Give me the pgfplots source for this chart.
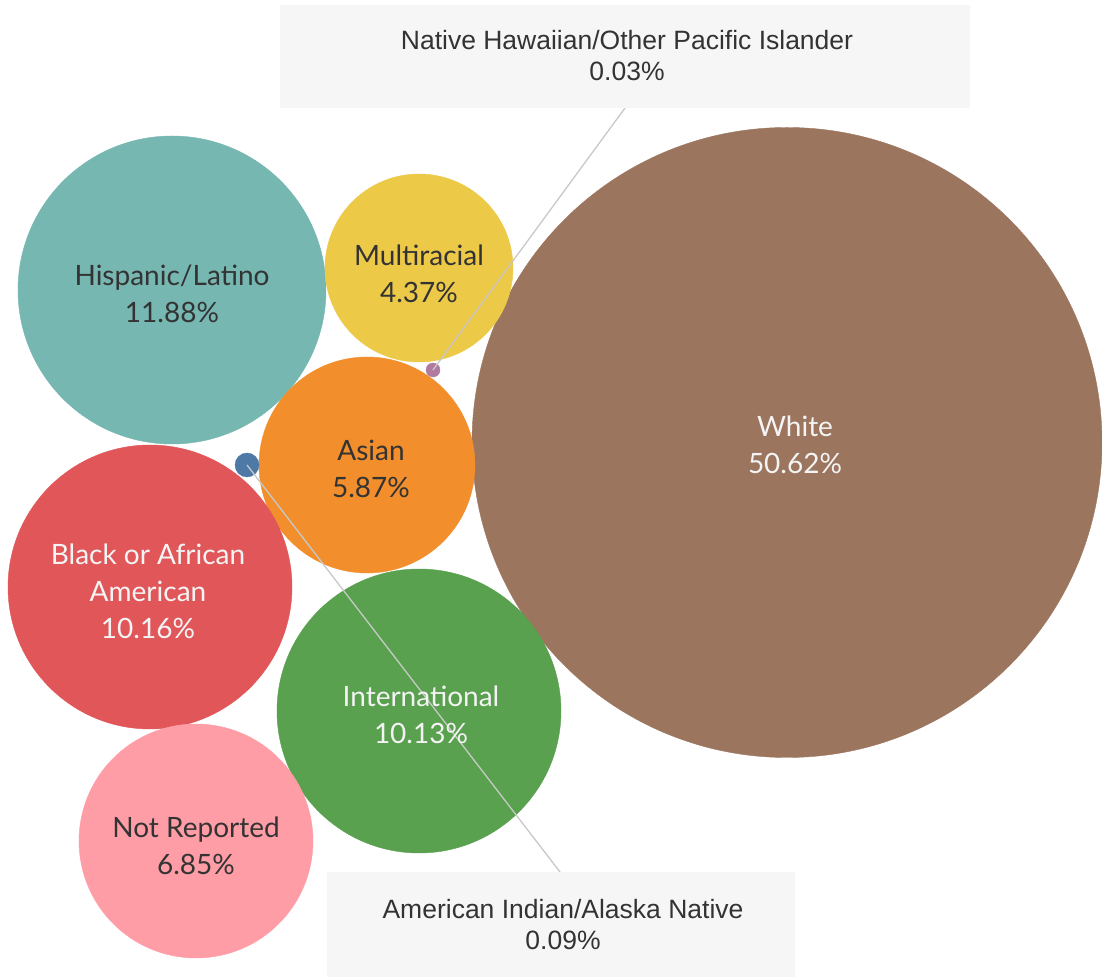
\documentclass[border=0pt]{standalone}
\usepackage{pgfplots}
\pgfplotsset{compat=1.18}
\usepackage{fontspec}
\setmainfont{Lato}
\newfontfamily\boxfont{Liberation Sans}
\definecolor{cWhite}{HTML}{9C755F}
\definecolor{cHisp}{HTML}{76B7B2}
\definecolor{cMulti}{HTML}{EDC948}
\definecolor{cAsian}{HTML}{F28E2B}
\definecolor{cBlack}{HTML}{E15759}
\definecolor{cIntl}{HTML}{59A14F}
\definecolor{cNR}{HTML}{FF9DA7}
\definecolor{cNH}{HTML}{B07AA1}
\definecolor{cAI}{HTML}{4E79A7}
\definecolor{dark}{HTML}{333333}
\definecolor{light}{HTML}{F4F4F4}
\definecolor{boxfill}{HTML}{F6F6F6}
\definecolor{leader}{HTML}{C8C8C8}
\begin{document}
\begin{tikzpicture}
\begin{axis}[
  x=1pt, y=1pt, xmin=0, xmax=1102, ymin=0, ymax=977,
  hide axis, clip=false, scale only axis,
]
\path (axis cs:0,0) rectangle (axis cs:1102,977);
% circles: centre x, centre y, radius
\addplot[only marks, mark=*, mark size=315pt, color=cWhite] coordinates {(787,534.5)};
\addplot[only marks, mark=*, mark size=154pt, color=cHisp] coordinates {(172,687)};
\addplot[only marks, mark=*, mark size=94pt, color=cMulti] coordinates {(419,709)};
\addplot[only marks, mark=*, mark size=108pt, color=cAsian] coordinates {(367,512)};
\addplot[only marks, mark=*, mark size=142pt, color=cBlack] coordinates {(150,390)};
\addplot[only marks, mark=*, mark size=142pt, color=cIntl] coordinates {(419,266)};
\addplot[only marks, mark=*, mark size=117pt, color=cNR] coordinates {(196,136)};
\addplot[only marks, mark=*, mark size=7pt, color=cNH] coordinates {(433,607)};
\addplot[only marks, mark=*, mark size=12pt, color=cAI] coordinates {(247,512)};
\coordinate (nh) at (axis cs:433,607);
\coordinate (nhb) at (axis cs:625,869);
\coordinate (ai) at (axis cs:247,512);
\coordinate (aib) at (axis cs:560,105);
\coordinate (box1a) at (axis cs:280,869);
\coordinate (box1b) at (axis cs:970,972);
\coordinate (box2a) at (axis cs:327,0);
\coordinate (box2b) at (axis cs:795,105);
\coordinate (lbox1) at (axis cs:627,921);
\coordinate (lbox2) at (axis cs:563,52);
\coordinate (lHisp) at (axis cs:172,683);
\coordinate (lMulti) at (axis cs:419,703);
\coordinate (lAsian) at (axis cs:371,508);
\coordinate (lWhite) at (axis cs:795,532);
\coordinate (lBlack) at (axis cs:148,386);
\coordinate (lIntl) at (axis cs:421,262);
\coordinate (lNR) at (axis cs:196,131);
\end{axis}
% leader lines
\draw[leader, line width=1.3pt] (nh) -- (nhb);
\draw[leader, line width=1.3pt] (ai) -- (aib);
% boxes
\fill[boxfill] (box1a) rectangle (box1b);
\fill[boxfill] (box2a) rectangle (box2b);
\node[font=\boxfont\fontsize{26.5}{31}\selectfont, text=dark, align=center] at (lbox1) {Native Hawaiian/Other Pacific Islander\\0.03\%};
\node[font=\boxfont\fontsize{26.5}{31}\selectfont, text=dark, align=center] at (lbox2) {American Indian/Alaska Native\\0.09\%};
% circle labels
\begin{scope}[every node/.style={align=center, font=\fontsize{28}{37}\selectfont}]
\node[text=dark] at (lHisp) {Hispanic/Latino\\11.88\%};
\node[text=dark] at (lMulti) {Multiracial\\4.37\%};
\node[text=dark] at (lAsian) {Asian\\5.87\%};
\node[text=light] at (lWhite) {White\\50.62\%};
\node[text=light] at (lBlack) {Black or African\\American\\10.16\%};
\node[text=light] at (lIntl) {International\\10.13\%};
\node[text=dark] at (lNR) {Not Reported\\6.85\%};
\end{scope}
\end{tikzpicture}
\end{document}
